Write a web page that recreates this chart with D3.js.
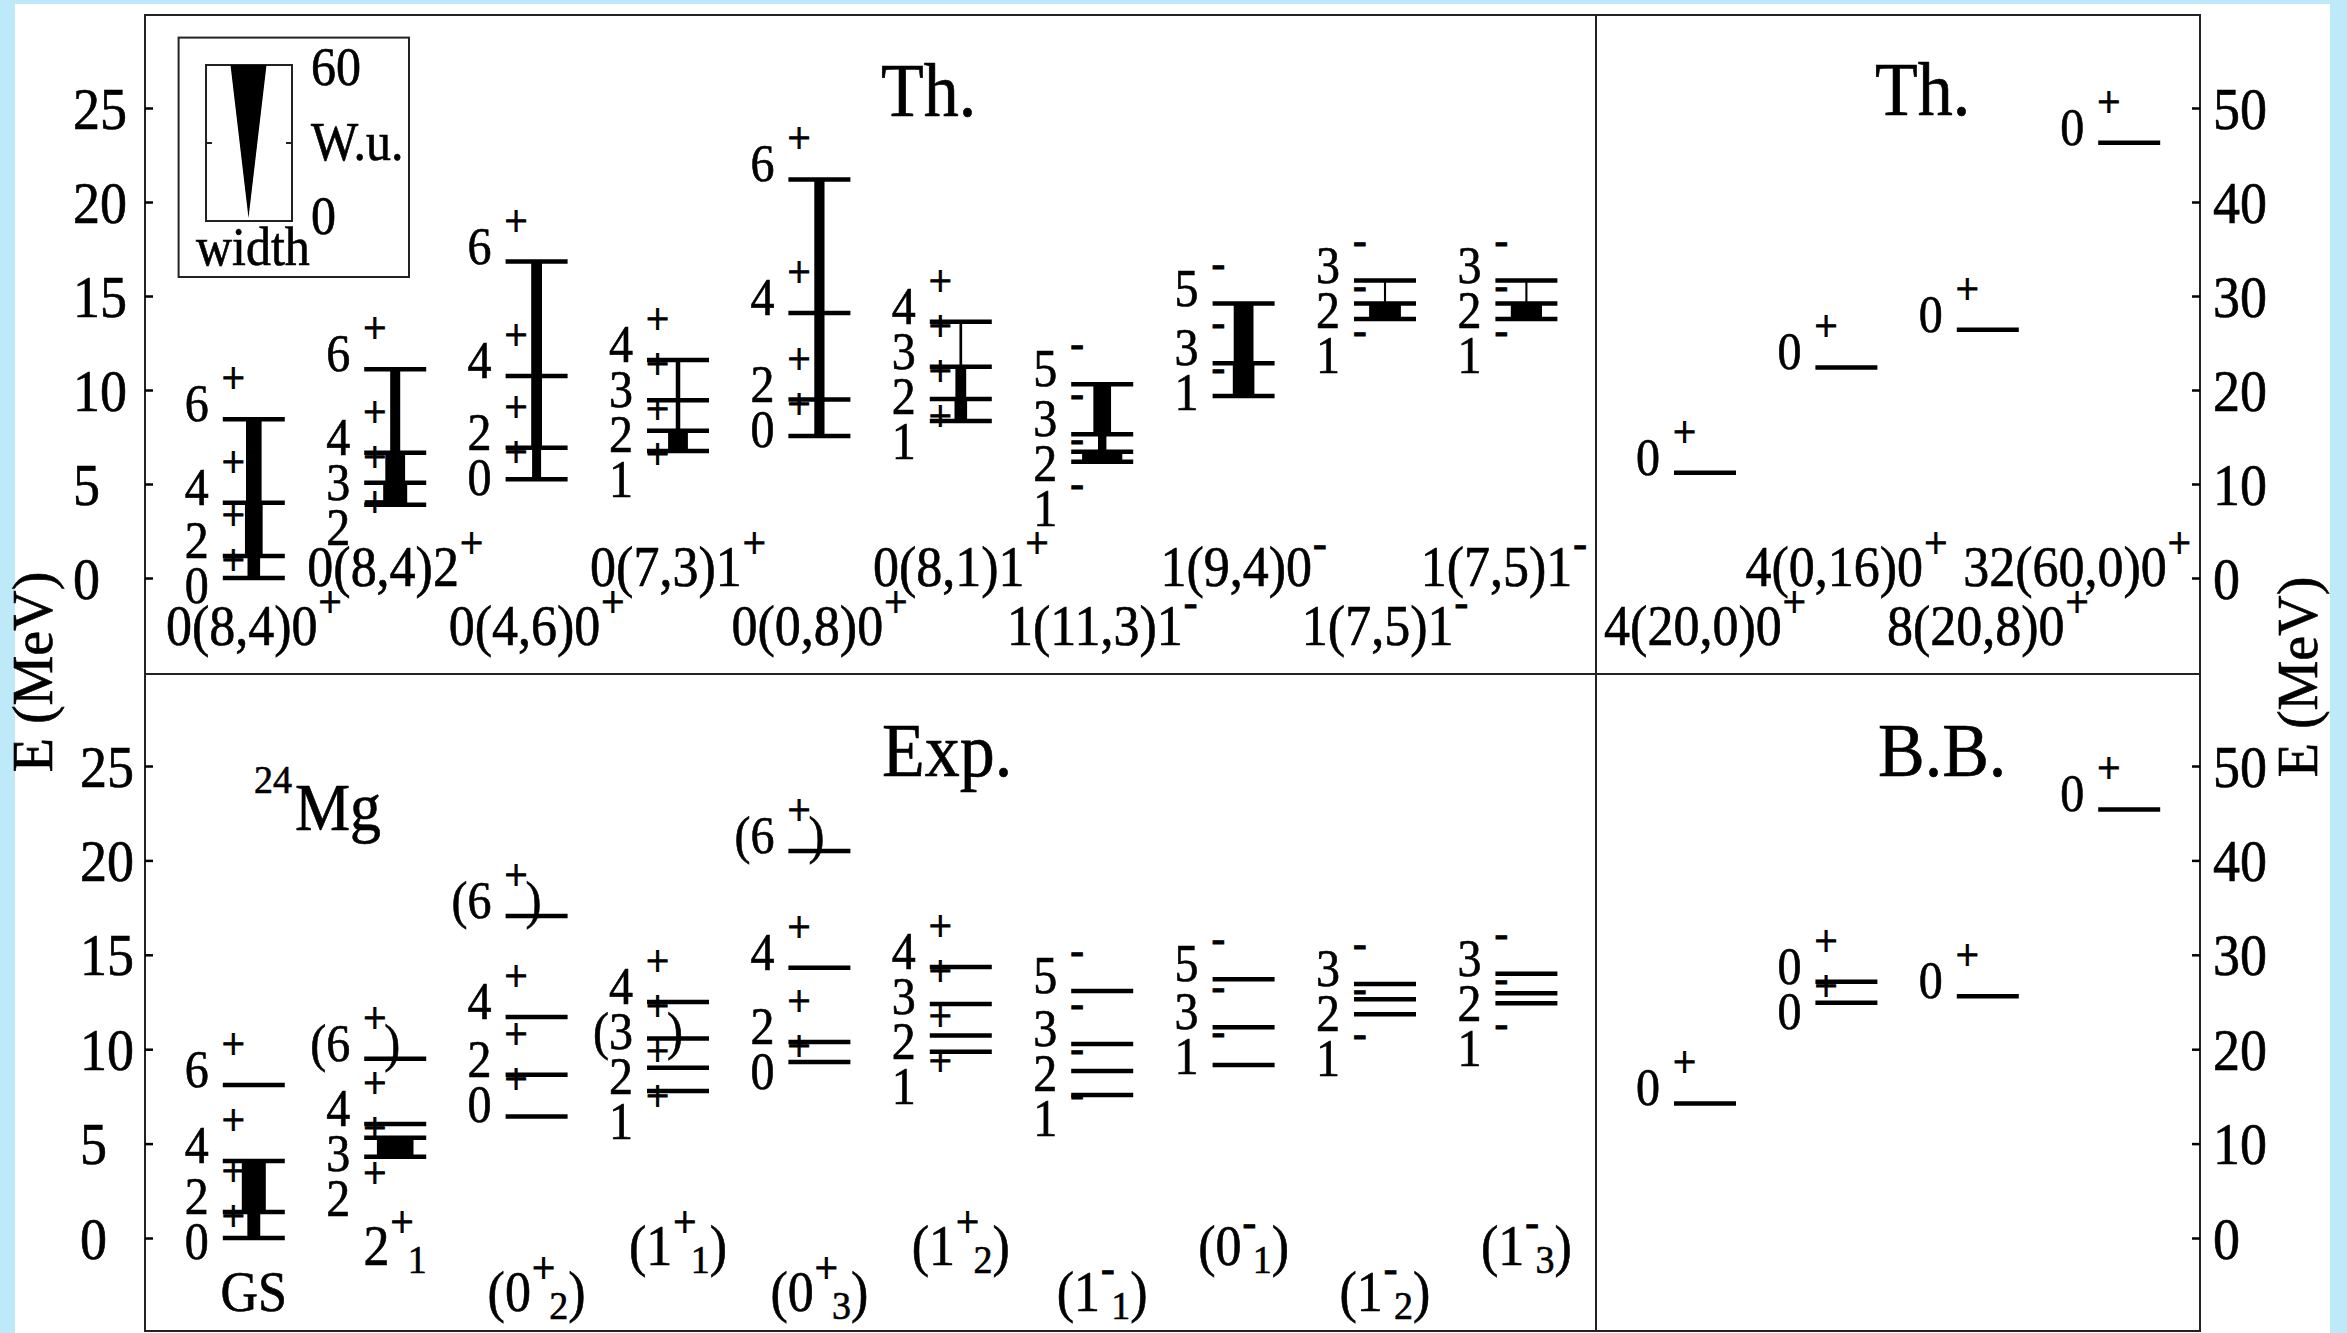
<!DOCTYPE html>
<html><head><meta charset="utf-8">
<script src="https://cdn.jsdelivr.net/npm/d3@7"></script>
<style>
body{margin:0;background:#bee9f9;}
text{font-family:"Liberation Serif","Times New Roman",serif;fill:#000;stroke:#000;stroke-width:0.6px;}
text.sup{stroke-width:1px;}
</style>
</head><body>
<svg id="c" width="2347" height="1333"></svg>
<script>
// ---------------- DATA ----------------
const leftTicks = [0,5,10,15,20,25];
const rightTicks = [0,10,20,30,40,50];

// Theory (left top panel)
const thColLabels = ["0(8,4)0","0(8,4)2","0(4,6)0","0(7,3)1","0(0,8)0","0(8,1)1","1(11,3)1","1(9,4)0","1(7,5)1","1(7,5)1"];
const thParity = ["+","+","+","+","+","+","-","-","-","-"];
const thSpins = [[0,2,4,6],[2,3,4,6],[0,2,4,6],[1,2,3,4],[0,2,4,6],[1,2,3,4],[1,2,3,5],[1,3,5],[1,2,3],[1,2,3]];
const thEnergies = [[0,1.17,4.0,8.44],[3.9,5.07,6.66,11.1],[5.25,6.93,10.74,16.83],[6.76,7.83,9.46,11.6],
  [7.55,9.49,14.1,21.2],[8.35,9.52,11.24,13.63],[6.19,6.72,7.64,10.3],[9.68,11.42,14.6],[13.78,14.6,15.82],[13.78,14.6,15.82]];
// transition strengths (W.u.) between consecutive levels
const thBE = [[21,29.5,26],[40,33,16.7],[15,18,18],[33,7.5,7.5],[17,17,17],[21,18,4.5],[67,14,29.5],[36,33],[53,3.5],[52,3.5]];

// Theory (right top panel), right-axis scale
const thRightLabels = ["4(20,0)0","4(0,16)0","8(20,8)0","32(60,0)0"];
const thRightEnergies = [[11.2],[22.4],[26.4],[46.3]];

// Experiment (left bottom panel)
const expColMain = ["GS","2","(0","(1","(0","(1","(1","(0","(1","(1"];
const expColSup = ["","+","+","+","+","+","-","-","-","-"];
const expColSub = ["","1","2","1","3","2","1","1","2","3"];
const expColClose = ["","",")",")",")",")",")",")",")",")"];
const expParity = ["+","+","+","+","+","+","-","-","-","-"];
const expSpins = [["0","2","4","6"],["2","3","4","(6)"],["0","2","4","(6)"],["1","2","(3)","4"],["0","2","4","(6)"],
  ["1","2","3","4"],["1","2","3","5"],["1","3","5"],["1","2","3"],["1","2","3"]];
const expEnergies = [[0,1.38,4.08,8.1],[4.31,5.31,6.04,9.5],[6.43,8.65,11.7,17.05],[7.78,9.02,10.57,12.5],
  [9.32,10.38,14.32,20.5],[9.86,10.73,12.39,14.36],[7.57,8.85,10.28,13.08],[9.16,11.16,13.7],[11.85,12.64,13.45],[12.43,12.96,14.0]];
const expBE = [[21.5,40,0],[61,0,0],[0,0,0],[0,0,0],[0,0,0],[0,0,0],[0,0,0],[0,0],[0,0],[0,0]];

// B.B. (right bottom panel), right-axis scale
const bbEnergies = [[14.26],[24.93,27.15],[25.6],[45.4]];

// legend
const legendWu = [0,60];

// ---------------- LAYOUT ----------------
const K = 1.08, FS_LVL = 48, FS_SUP = 41, FS_COL = 52, FS_TICK = 54, FS_TITLE = 70, FS_LEG = 50;
const GAP = 45, SUP_DY = 28, SUB_DY = 8, HALF = 31;
const F = {left:145, mid:1596, right:2200, top:15, hmid:674, bottom:1331};

const svg = d3.select('#c');
svg.append('rect').attr('x',15).attr('y',4).attr('width',2315).attr('height',1329).attr('fill','#fff');

const yTop = d3.scaleLinear().domain([0,25]).range([578,108]);
const yTopR = d3.scaleLinear().domain([0,50]).range([578,108]);
const yBot = d3.scaleLinear().domain([0,25]).range([1238,766]);
const yBotR = d3.scaleLinear().domain([0,50]).range([1238,766]);
const xL = d3.scaleLinear().domain([0,1]).range([F.left+108.8, F.left+108.8+141.4]);
const xR = d3.scaleLinear().domain([0,1]).range([F.mid+109, F.mid+109+141.4]);
const wScale = d3.scaleLinear().domain([0,60]).range([0,36]);

function txt(g, x, y, s, size, anchor, cls) {
  return g.append('text').attr('transform', `translate(${x},${y}) scale(1,${K})`)
    .attr('font-size', size).attr('text-anchor', anchor || 'start').attr('class', cls || null).text(s);
}

function rich(parent, cx, y, parts, clampRight) {
  const grp = parent.append('g');
  let x = 0;
  parts.forEach(p => {
    if (p.n !== undefined) {
      if (!p.n) return;
      const t = grp.append('text').attr('x', x).attr('font-size', FS_COL).text(p.n);
      x += t.node().getComputedTextLength();
    } else {
      let w = 0; const sx = x + 1;
      if (p.sup) {
        const t = grp.append('text').attr('class', 'sup').attr('x', sx).attr('y', -SUP_DY / K).attr('font-size', FS_SUP).text(p.sup);
        w = t.node().getComputedTextLength();
      }
      if (p.sub) {
        const bx = sx + (p.sup ? w * 0.75 : 0);
        const t = grp.append('text').attr('x', bx).attr('y', SUB_DY / K).attr('font-size', FS_SUP - 3).text(p.sub);
        x = bx + t.node().getComputedTextLength();
      } else if (p.sup) x = sx + w;
    }
  });
  let x0 = cx - x / 2;
  if (clampRight !== undefined && x0 + x > clampRight) x0 = clampRight - x;
  grp.attr('transform', `translate(${x0},${y}) scale(1,${K})`);
}

function drawColumn(g, cx, yS, energies, spins, parity, be) {
  const x0 = cx - HALF, x1 = cx + HALF;
  (be || []).forEach((b, i) => {
    if (!b) return;
    const w = wScale(b);
    g.append('rect').attr('x', cx - w / 2).attr('y', yS(energies[i + 1]))
      .attr('width', w).attr('height', yS(energies[i]) - yS(energies[i + 1])).attr('fill', '#000');
  });
  energies.forEach(e => g.append('line').attr('x1', x0).attr('x2', x1)
    .attr('y1', yS(e)).attr('y2', yS(e)).attr('stroke', '#000').attr('stroke-width', 4.5));
  const order = d3.range(energies.length).sort((a, b) => energies[b] - energies[a]);
  let prev = -1e9;
  order.forEach(i => {
    const base = Math.max(yS(energies[i]) + 2, prev + GAP);
    prev = base;
    const s = String(spins[i]);
    const paren = s.includes(')');
    txt(g, x0 - 14, base, s.replace(')', ''), FS_LVL, 'end');
    txt(g, x0 - 1, base - SUP_DY, parity, FS_SUP, 'start', 'sup');
    if (paren) txt(g, x0 + 20, base, ')', FS_LVL, 'start');
  });
}

// ---------------- FRAME ----------------
const fr = svg.append('g').attr('stroke', '#222').attr('stroke-width', 2).attr('fill', 'none');
fr.append('rect').attr('x', F.left).attr('y', F.top).attr('width', F.right - F.left).attr('height', F.bottom - F.top);
fr.append('line').attr('x1', F.left).attr('x2', F.right).attr('y1', F.hmid).attr('y2', F.hmid);
fr.append('line').attr('x1', F.mid).attr('x2', F.mid).attr('y1', F.top).attr('y2', F.bottom);

// ---------------- AXES ----------------
function styleAxis(g, labelDx) {
  g.attr('font-family', null).attr('font-size', null);
  g.select('.domain').remove();
  g.selectAll('.tick line').attr('stroke', '#000').attr('stroke-width', 2.5);
  g.selectAll('.tick text').attr('x', null).attr('dy', null).attr('fill', '#000')
    .attr('text-anchor', 'start').attr('font-size', FS_TICK)
    .attr('transform', `translate(${labelDx},20) scale(1,${K})`);
}
styleAxis(svg.append('g').attr('transform', `translate(${F.left},0)`)
  .call(d3.axisLeft(yTop).tickValues(leftTicks).tickSizeInner(-8).tickSizeOuter(0).tickFormat(d3.format('d'))), 73 - F.left);
styleAxis(svg.append('g').attr('transform', `translate(${F.left},0)`)
  .call(d3.axisLeft(yBot).tickValues(leftTicks).tickSizeInner(-8).tickSizeOuter(0).tickFormat(d3.format('d'))), 80 - F.left);
styleAxis(svg.append('g').attr('transform', `translate(${F.right},0)`)
  .call(d3.axisRight(yTopR).tickValues(rightTicks).tickSizeInner(-8).tickSizeOuter(0).tickFormat(d3.format('d'))), 13);
styleAxis(svg.append('g').attr('transform', `translate(${F.right},0)`)
  .call(d3.axisRight(yBotR).tickValues(rightTicks).tickSizeInner(-8).tickSizeOuter(0).tickFormat(d3.format('d'))), 13);

svg.append('text').attr('transform', 'translate(52,672) rotate(-90)').attr('font-size', 56)
  .attr('text-anchor', 'middle').text('E (MeV)');
svg.append('text').attr('transform', 'translate(2317,677) rotate(-90)').attr('font-size', 56)
  .attr('text-anchor', 'middle').text('E (MeV)');

// ---------------- TITLES ----------------
txt(svg, 881, 116, 'Th.', FS_TITLE);
txt(svg, 882, 776, 'Exp.', FS_TITLE);
txt(svg, 1875, 115, 'Th.', FS_TITLE);
txt(svg, 1878, 776, 'B.B.', FS_TITLE);
txt(svg, 254, 793, '24', 38);
txt(svg, 295, 830, 'Mg', 62);

// ---------------- LEGEND ----------------
const lg = svg.append('g');
lg.append('rect').attr('x', 178.6).attr('y', 37.6).attr('width', 230.4).attr('height', 239.4)
  .attr('fill', '#fff').attr('stroke', '#222').attr('stroke-width', 2);
lg.append('rect').attr('x', 206).attr('y', 65).attr('width', 86).attr('height', 156)
  .attr('fill', 'none').attr('stroke', '#222').attr('stroke-width', 2);
const legY = d3.scaleLinear().domain(legendWu).range([218, 65]);
const lcx = 248.5;
lg.append('path').attr('d', d3.line()([
  [lcx - wScale(legendWu[1]) / 2, legY(legendWu[1])],
  [lcx + wScale(legendWu[1]) / 2, legY(legendWu[1])],
  [lcx, legY(legendWu[0])]]) + 'Z').attr('fill', '#000');
lg.append('line').attr('x1', 206).attr('x2', 212).attr('y1', 143).attr('y2', 143).attr('stroke', '#222').attr('stroke-width', 2);
lg.append('line').attr('x1', 286).attr('x2', 292).attr('y1', 143).attr('y2', 143).attr('stroke', '#222').attr('stroke-width', 2);
txt(lg, 311, 85, String(legendWu[1]), FS_LEG);
txt(lg, 311, 160, 'W.u.', FS_LEG);
txt(lg, 311, 234, String(legendWu[0]), FS_LEG);
txt(lg, 196, 265, 'width', FS_LEG);

// ---------------- THEORY LEFT ----------------
const gTh = svg.append('g');
thColLabels.forEach((lab, i) => {
  const cx = xL(i);
  drawColumn(gTh, cx, yTop, thEnergies[i], thSpins[i], thParity[i], thBE[i]);
  rich(gTh, cx, i % 2 === 0 ? 645 : 586, [{n: lab}, {sup: thParity[i]}], F.mid - 9);
});

// ---------------- THEORY RIGHT ----------------
thRightLabels.forEach((lab, i) => {
  const cx = xR(i);
  drawColumn(gTh, cx, yTopR, thRightEnergies[i], thRightEnergies[i].map(() => 0), '+', null);
  rich(gTh, cx, i % 2 === 0 ? 645 : 586, [{n: lab}, {sup: '+'}], F.right - 9);
});

// ---------------- EXPERIMENT ----------------
const gEx = svg.append('g');
expColMain.forEach((m, i) => {
  const cx = xL(i);
  drawColumn(gEx, cx, yBot, expEnergies[i], expSpins[i], expParity[i], expBE[i]);
  const parts = [{n: m}];
  if (expColSup[i] || expColSub[i]) parts.push({sup: expColSup[i], sub: expColSub[i]});
  if (expColClose[i]) parts.push({n: expColClose[i]});
  rich(gEx, cx, i % 2 === 0 ? 1311 : 1265, parts);
});

// ---------------- B.B. ----------------
bbEnergies.forEach((es, i) => {
  drawColumn(gEx, xR(i), yBotR, es, es.map(() => 0), '+', null);
});
</script>
</body></html>
